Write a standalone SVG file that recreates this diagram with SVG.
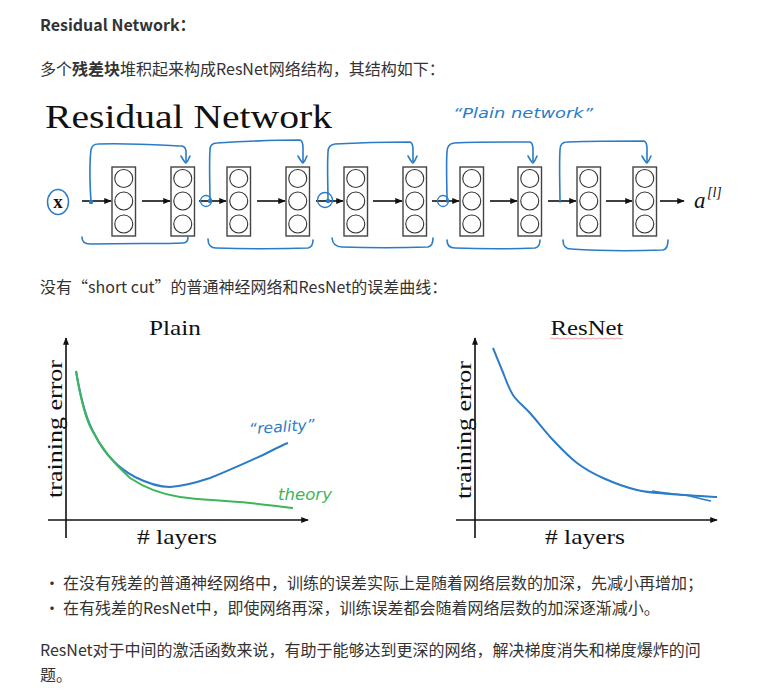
<svg xmlns="http://www.w3.org/2000/svg" width="775" height="699" viewBox="0 0 775 699">
<style>
.t{font-family:"Noto Sans CJK SC","Noto Sans",sans-serif;font-size:16px;fill:#333}
.b{font-weight:bold}
.serif{font-family:"Liberation Serif","DejaVu Serif",serif;fill:#111}
.box{fill:#fff;stroke:#444;stroke-width:1.4}
.neu{fill:none;stroke:#333;stroke-width:1.1}
.arr{stroke:#111;stroke-width:1.6;fill:none;marker-end:url(#ah)}
.sk{fill:none;stroke:#2b7cc7;stroke-width:1.6;stroke-linecap:round;stroke-linejoin:round}
.ax{stroke:#111;stroke-width:1.6;fill:none;marker-end:url(#ah)}
.hw{font-family:"DejaVu Sans",sans-serif;font-style:italic}
</style>
<defs>
<marker id="ah" viewBox="0 0 10 8" refX="9" refY="4" markerWidth="8" markerHeight="6" markerUnits="userSpaceOnUse" orient="auto">
<path d="M0,0 L10,4 L0,8 Z" fill="#111"/>
</marker>
<g id="col">
<rect class="box" x="0" y="0" width="23.5" height="69"/>
<circle class="neu" cx="11.75" cy="11.5" r="9"/>
<circle class="neu" cx="11.75" cy="34" r="9"/>
<circle class="neu" cx="11.75" cy="57" r="9"/>
</g>
</defs>
<rect width="775" height="699" fill="#fff"/>

<g id="text-top">
<text class="t b" x="40" y="31">Residual Network：</text>
<text class="t" x="40" y="75">多个<tspan class="b">残差块</tspan>堆积起来构成ResNet网络结构，其结构如下：</text>
</g>

<g id="title">
<text class="serif" x="45" y="128" font-size="34" textLength="287" lengthAdjust="spacingAndGlyphs">Residual Network</text>
</g>

<g id="plain-label">
<text class="hw" x="453" y="118" font-size="14" fill="#2b7cc7" textLength="140" lengthAdjust="spacingAndGlyphs">“Plain  network”</text>
</g>

<g id="input-x">
<ellipse cx="58" cy="202" rx="10.5" ry="12.5" fill="none" stroke="#2b7cc7" stroke-width="1.5"/>
<text class="serif" x="58" y="208" font-size="19" font-weight="bold" text-anchor="middle">x</text>
</g>

<g id="layer1"><use href="#col" x="112" y="167"/></g>
<g id="layer2"><use href="#col" x="171" y="167"/></g>
<g id="layer3"><use href="#col" x="227" y="167"/></g>
<g id="layer4"><use href="#col" x="286" y="167"/></g>
<g id="layer5"><use href="#col" x="344" y="167"/></g>
<g id="layer6"><use href="#col" x="403" y="167"/></g>
<g id="layer7"><use href="#col" x="460" y="167"/></g>
<g id="layer8"><use href="#col" x="518" y="167"/></g>
<g id="layer9"><use href="#col" x="577" y="167"/></g>
<g id="layer10"><use href="#col" x="633" y="167"/></g>

<g id="output">
<text class="serif" x="694" y="208" font-size="23" font-style="italic">a</text>
<text class="serif" x="707" y="197" font-size="14" font-style="italic">[l]</text>
</g>

<g id="connectors">
<line class="arr" x1="82" y1="201" x2="111" y2="201"/>
<line class="arr" x1="142" y1="201" x2="170" y2="201"/>
<line class="arr" x1="199" y1="201" x2="226" y2="201"/>
<line class="arr" x1="257" y1="201" x2="285" y2="201"/>
<line class="arr" x1="316" y1="201" x2="343" y2="201"/>
<line class="arr" x1="373" y1="201" x2="402" y2="201"/>
<line class="arr" x1="432" y1="201" x2="459" y2="201"/>
<line class="arr" x1="490" y1="201" x2="517" y2="201"/>
<line class="arr" x1="548" y1="201" x2="576" y2="201"/>
<line class="arr" x1="606" y1="201" x2="632" y2="201"/>
<line class="arr" x1="660" y1="201" x2="684" y2="201"/>

<path class="sk" d="M91,202 C90,186 89,166 91,150 Q92,144 98,144 C130,143 160,145 182,146 Q186,147 186,152 L186,162"/>
<path class="sk" d="M181,156 Q185,163 186,163 Q188,161 190,156"/>
<circle cx="91" cy="202" r="2.2" fill="#2b7cc7"/>
<path class="sk" d="M82,237 Q82,244 90,244 C130,243 160,244 183,243 Q188,243 188,237"/>

<path class="sk" d="M210,202 C210,186 209,166 210,150 Q210,143 217,143 C250,141 280,140 300,140 Q303,141 303,148 L303,162"/>
<path class="sk" d="M298,156 Q302,163 303,163 Q305,161 307,156"/>
<circle cx="206" cy="201" r="5.5" fill="none" stroke="#2b7cc7" stroke-width="1.3"/>
<circle cx="210" cy="201" r="2.2" fill="#2b7cc7"/>
<path class="sk" d="M208,239 Q208,248 216,248 C250,249 280,249 308,248 Q313,247 313,240"/>

<path class="sk" d="M328,202 C328,186 327,166 328,152 Q328,145 335,144 C370,142 395,142 410,142 Q413,143 413,150 L413,162"/>
<path class="sk" d="M408,156 Q412,163 413,163 Q415,161 417,156"/>
<circle cx="325" cy="200" r="7.5" fill="none" stroke="#2b7cc7" stroke-width="1.3"/>
<circle cx="328" cy="201" r="2.2" fill="#2b7cc7"/>
<path class="sk" d="M332,238 Q333,247 342,247 C370,248 400,248 428,247 Q433,246 433,238"/>

<path class="sk" d="M447,202 C447,186 446,166 447,152 Q447,144 454,143 C480,142 510,142 530,142 Q533,143 533,150 L533,162"/>
<path class="sk" d="M528,156 Q532,163 533,163 Q535,161 537,156"/>
<circle cx="443" cy="201" r="5.5" fill="none" stroke="#2b7cc7" stroke-width="1.3"/>
<path class="sk" d="M447,240 Q447,248 455,248 C480,249 510,249 535,248 Q540,247 540,240"/>

<path class="sk" d="M560,202 C560,186 559,166 560,150 Q560,142 567,142 C600,141 625,141 644,141 Q647,142 647,149 L647,162"/>
<path class="sk" d="M642,156 Q646,163 647,163 Q649,161 651,156"/>
<path class="sk" d="M563,240 Q563,249 571,249 C600,251 635,251 663,250 Q668,249 668,240"/>
</g>

<g id="text-mid">
<text class="t" x="40" y="293">没有“short cut”的普通神经网络和ResNet的误差曲线：</text>
</g>

<g id="chart-plain">
<text class="serif" x="175" y="335" font-size="22" text-anchor="middle" textLength="52" lengthAdjust="spacingAndGlyphs">Plain</text>
<line class="ax" x1="66" y1="538" x2="66" y2="338"/>
<line class="ax" x1="48" y1="520" x2="308" y2="520"/>
<text class="serif" transform="translate(62,429) rotate(-90)" font-size="22" text-anchor="middle" textLength="138" lengthAdjust="spacingAndGlyphs">training error</text>
<text class="serif" x="177" y="544" font-size="22" text-anchor="middle" textLength="80" lengthAdjust="spacingAndGlyphs"># layers</text>
<path d="M76,371 C80,395 86,420 95,435 C105,455 118,468 135,477 C147,483 160,487 170,487 C185,486 195,483 210,478 C230,470 245,463 263,455 C273,450 280,446 288,443" fill="none" stroke="#2b7cc7" stroke-width="2"/>
<path d="M76,371 C80,395 85,418 92,430 C100,446 110,460 130,478 C145,488 160,494 180,497 C200,500 220,500 250,503 C270,505 282,507 293,508" fill="none" stroke="#3db55a" stroke-width="2"/>
<text class="hw" x="249" y="432" font-size="15" fill="#2b7cc7" textLength="66" lengthAdjust="spacingAndGlyphs" transform="rotate(-4 282 428)">“reality”</text>
<text class="hw" x="278" y="500" font-size="15" fill="#3db55a" textLength="54" lengthAdjust="spacingAndGlyphs">theory</text>
</g>

<g id="chart-resnet">
<text class="serif" x="587" y="335" font-size="22" text-anchor="middle" textLength="73" lengthAdjust="spacingAndGlyphs">ResNet</text>
<path d="M550,338.5 q1.5,-1 3,0 t3,0 t3,0 t3,0 t3,0 t3,0 t3,0 t3,0 t3,0 t3,0 t3,0 t3,0 t3,0 t3,0 t3,0 t3,0 t3,0 t3,0 t3,0 t3,0 t3,0 t3,0 t3,0 t3,0" fill="none" stroke="#e88" stroke-width="0.8"/>
<line class="ax" x1="475" y1="538" x2="475" y2="338"/>
<line class="ax" x1="456" y1="520" x2="717" y2="520"/>
<text class="serif" transform="translate(471,430) rotate(-90)" font-size="22" text-anchor="middle" textLength="138" lengthAdjust="spacingAndGlyphs">training error</text>
<text class="serif" x="585" y="544" font-size="22" text-anchor="middle" textLength="80" lengthAdjust="spacingAndGlyphs"># layers</text>
<path d="M493,348 C494.5,351.7 498.7,362.2 502,370 C505.3,377.8 508.3,387.8 513,395 C517.7,402.2 523.3,405.5 530,413 C536.7,420.5 545.2,431.7 553,440 C560.8,448.3 568.7,456.7 577,463 C585.3,469.3 593,473.5 603,478 C613,482.5 625.8,487.3 637,490 C648.2,492.7 656.7,492.8 670,494 C683.3,495.2 709.2,496.5 717,497" fill="none" stroke="#2b7cc7" stroke-width="2"/>
<path d="M652,491 C668,494 680,494 690,496 C698,498 705,500 711,501" fill="none" stroke="#2b7cc7" stroke-width="1.5"/>
</g>

<g id="text-bottom">
<text class="t" x="44" y="589">·</text>
<text class="t" x="63" y="589">在没有残差的普通神经网络中，训练的误差实际上是随着网络层数的加深，先减小再增加；</text>
<text class="t" x="44" y="614">·</text>
<text class="t" x="63" y="614">在有残差的ResNet中，即使网络再深，训练误差都会随着网络层数的加深逐渐减小。</text>
<text class="t" x="40" y="656">ResNet对于中间的激活函数来说，有助于能够达到更深的网络，解决梯度消失和梯度爆炸的问</text>
<text class="t" x="40" y="681">题。</text>
</g>
</svg>
